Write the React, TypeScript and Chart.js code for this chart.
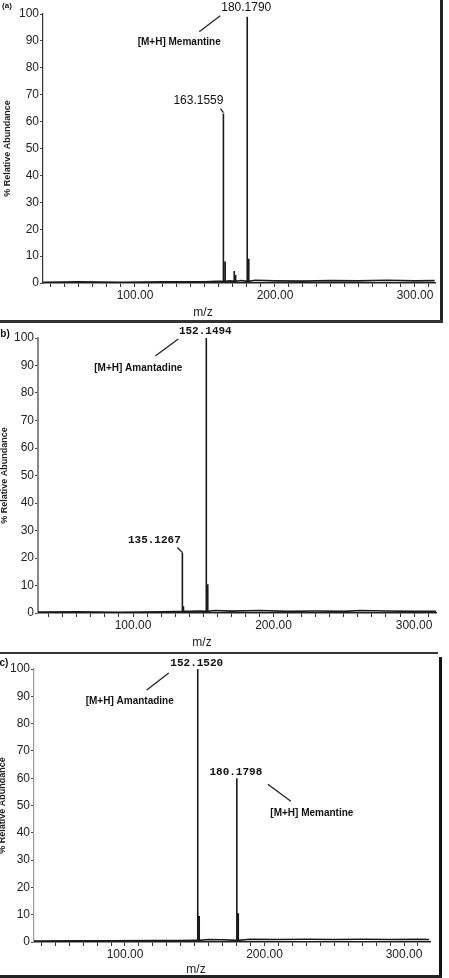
import React, { useEffect, useRef } from "react";
import { Chart, registerables } from "chart.js";
Chart.register(...registerables);

const SANS = '"Liberation Sans", Arial, sans-serif';
const MONO = '"Liberation Mono", "Courier New", monospace';

// ---------------- DATA ----------------
// Panel (a)
const aPeakMz = [163.16, 164.4, 170.9, 171.9, 180.18, 181.3];
const aPeakInt = [63, 8, 4.5, 3, 99, 9];
const aBaseMz = [34, 60, 90, 120, 150, 158, 168, 176, 186, 200, 220, 240, 260, 280, 300, 314];
const aBaseInt = [0.3, 0.4, 0.3, 0.4, 0.4, 0.6, 0.8, 0.9, 1.0, 0.8, 0.7, 0.9, 0.8, 1.0, 0.8, 0.9];
const aLabels = ["180.1790", "163.1559", "[M+H] Memantine"];

// Panel (b)
const bPeakMz = [135.13, 135.9, 152.15, 153.2];
const bPeakInt = [22, 2.5, 100, 10.5];
const bBaseMz = [32, 60, 90, 120, 130, 140, 148, 158, 170, 190, 210, 230, 250, 262, 280, 300, 316];
const bBaseInt = [0.3, 0.4, 0.3, 0.4, 0.5, 0.6, 0.7, 0.9, 0.7, 0.9, 0.6, 0.7, 0.6, 0.9, 0.7, 0.6, 0.6];
const bLabels = ["152.1494", "[M+H] Amantadine", "135.1267"];

// Panel (c)
const cPeakMz = [152.15, 153.2, 180.18, 181.2];
const cPeakInt = [100, 9.5, 60, 10.5];
const cBaseMz = [34, 60, 90, 120, 140, 150, 160, 170, 190, 210, 230, 250, 270, 290, 310, 318];
const cBaseInt = [0.3, 0.4, 0.4, 0.5, 0.5, 0.6, 0.9, 0.8, 1.0, 0.9, 1.0, 0.9, 1.0, 0.9, 1.0, 0.9];
const cLabels = ["152.1520", "[M+H] Amantadine", "180.1798", "[M+H] Memantine"];

const yTickStep = 10;
const xTickValues = [40, 50, 60, 70, 80, 90, 100, 110, 120, 130, 140, 150, 160, 170, 180, 190, 200, 210, 220, 230, 240, 250, 260, 270, 280, 290, 300, 310];
const xLabelValues = [100, 200, 300];

// ---------------- HELPERS ----------------
function buildSeries(baseMz: number[], baseInt: number[], peakMz: number[], peakInt: number[]) {
  const pts: { x: number; y: number; o: number }[] = [];
  baseMz.forEach((m, i) => pts.push({ x: m, y: baseInt[i], o: 0 }));
  peakMz.forEach((m, i) => {
    pts.push({ x: m - 0.001, y: 0.6, o: 1 });
    pts.push({ x: m, y: peakInt[i], o: 2 });
    pts.push({ x: m + 0.001, y: 0.6, o: 3 });
  });
  pts.sort((p, q) => p.x - q.x || p.o - q.o);
  return pts.map((p) => ({ x: p.x, y: p.y }));
}

type Note = { text: string; peak: number; dx: number; dy: number; font: string };
type Leader = { peak: number; x1: number; y1: number; x2: number; y2: number };

type Panel = {
  top: number;
  h: number;
  area: { left: number; right: number; top: number; bottom: number };
  xMin: number;
  xMax: number;
  peakMz: number[];
  peakInt: number[];
  baseMz: number[];
  baseInt: number[];
  notes: Note[];
  leaders: Leader[];
  tag: { text: string; x: number; y: number; font: string };
  yTitleX: number;
  xTitle: { x: number; y: number };
  yAxisColor: string;
  yAxisWidth: number;
};

const W = 449;

const panels: Panel[] = [
  {
    top: 0,
    h: 322,
    area: { left: 43, right: 435, top: 14, bottom: 283 },
    xMin: 34.3,
    xMax: 314.3,
    peakMz: aPeakMz,
    peakInt: aPeakInt,
    baseMz: aBaseMz,
    baseInt: aBaseInt,
    notes: [
      { text: aLabels[0], peak: 4, dx: -1, dy: -9, font: `12px ${SANS}` },
      { text: aLabels[1], peak: 0, dx: -25, dy: -13, font: `12px ${SANS}` },
      { text: aLabels[2], peak: 4, dx: -68, dy: 26, font: `bold 10px ${SANS}` },
    ],
    leaders: [
      { peak: 4, x1: -48, y1: 15, x2: -27, y2: -1 },
      { peak: 0, x1: -3, y1: -5, x2: 0, y2: -1 },
    ],
    tag: { text: "(a)", x: 7, y: 6, font: `bold 8px ${SANS}` },
    yTitleX: 8,
    xTitle: { x: 203, y: 313 },
    yAxisColor: "#333",
    yAxisWidth: 1.2,
  },
  {
    top: 322,
    h: 330,
    area: { left: 38, right: 436, top: 16, bottom: 291 },
    xMin: 32.4,
    xMax: 315.6,
    peakMz: bPeakMz,
    peakInt: bPeakInt,
    baseMz: bBaseMz,
    baseInt: bBaseInt,
    notes: [
      { text: bLabels[0], peak: 2, dx: -1, dy: -7, font: `bold 11px ${MONO}` },
      { text: bLabels[1], peak: 2, dx: -68, dy: 30, font: `bold 10px ${SANS}` },
      { text: bLabels[2], peak: 0, dx: -28, dy: -12, font: `bold 11px ${MONO}` },
    ],
    leaders: [
      { peak: 2, x1: -51, y1: 18, x2: -28, y2: 1 },
      { peak: 0, x1: -5, y1: -5, x2: 0, y2: 0 },
    ],
    tag: { text: "b)", x: 5, y: 12, font: `bold 10px ${SANS}` },
    yTitleX: 5,
    xTitle: { x: 202, y: 321 },
    yAxisColor: "#888",
    yAxisWidth: 2,
  },
  {
    top: 652,
    h: 326,
    area: { left: 34, right: 430, top: 17, bottom: 290 },
    xMin: 34.8,
    xMax: 318.6,
    peakMz: cPeakMz,
    peakInt: cPeakInt,
    baseMz: cBaseMz,
    baseInt: cBaseInt,
    notes: [
      { text: cLabels[0], peak: 0, dx: -1, dy: -6, font: `bold 11px ${MONO}` },
      { text: cLabels[1], peak: 0, dx: -68, dy: 32, font: `bold 10px ${SANS}` },
      { text: cLabels[2], peak: 2, dx: -1, dy: -6, font: `bold 11px ${MONO}` },
      { text: cLabels[3], peak: 2, dx: 75, dy: 35, font: `bold 10px ${SANS}` },
    ],
    leaders: [
      { peak: 0, x1: -51, y1: 21, x2: -29, y2: 4 },
      { peak: 2, x1: 31, y1: 6, x2: 54, y2: 23 },
    ],
    tag: { text: "c)", x: 4, y: 11, font: `bold 10px ${SANS}` },
    yTitleX: 3,
    xTitle: { x: 196, y: 318 },
    yAxisColor: "#999",
    yAxisWidth: 1.2,
  },
];

function SpectrumPanel({ p }: { p: Panel }) {
  const ref = useRef<HTMLCanvasElement | null>(null);
  useEffect(() => {
    if (!ref.current) return;
    const data = buildSeries(p.baseMz, p.baseInt, p.peakMz, p.peakInt);
    const overlay = {
      id: "overlay",
      afterDatasetsDraw(chart: any) {
        const { ctx, chartArea } = chart;
        const xs = chart.scales.x;
        const ys = chart.scales.y;
        ctx.save();
        ctx.fillStyle = "#111";
        ctx.textAlign = "center";
        ctx.textBaseline = "middle";
        for (const n of p.notes) {
          const px = xs.getPixelForValue(p.peakMz[n.peak]) + n.dx;
          const py = ys.getPixelForValue(p.peakInt[n.peak]) + n.dy;
          ctx.font = n.font;
          ctx.fillText(n.text, px, py);
        }
        ctx.strokeStyle = "#222";
        ctx.lineWidth = 1.3;
        for (const l of p.leaders) {
          const bx = xs.getPixelForValue(p.peakMz[l.peak]);
          const by = ys.getPixelForValue(p.peakInt[l.peak]);
          ctx.beginPath();
          ctx.moveTo(bx + l.x1, by + l.y1);
          ctx.lineTo(bx + l.x2, by + l.y2);
          ctx.stroke();
        }
        ctx.font = p.tag.font;
        ctx.fillText(p.tag.text, p.tag.x, p.tag.y);
        ctx.font = `12px ${SANS}`;
        ctx.fillStyle = "#222";
        ctx.fillText("m/z", p.xTitle.x, p.xTitle.y);
        ctx.translate(p.yTitleX, (chartArea.top + chartArea.bottom) / 2);
        ctx.rotate(-Math.PI / 2);
        ctx.font = `bold 9px ${SANS}`;
        ctx.fillStyle = "#222";
        ctx.fillText("% Relative Abundance", 0, 0);
        ctx.restore();
      },
    };
    const chart = new Chart(ref.current, {
      type: "line",
      data: {
        datasets: [
          {
            data,
            borderColor: "#1a1a1a",
            borderWidth: 1.6,
            pointRadius: 0,
            tension: 0,
            fill: false,
          },
        ],
      },
      options: {
        animation: false,
        responsive: false,
        devicePixelRatio: 1,
        layout: {
          padding: { top: p.area.top, right: W - p.area.right, left: 0, bottom: 0 },
        },
        plugins: { legend: { display: false }, tooltip: { enabled: false } },
        scales: {
          x: {
            type: "linear",
            min: p.xMin,
            max: p.xMax,
            afterBuildTicks: (s: any) => {
              s.ticks = xTickValues.map((v) => ({ value: v }));
            },
            afterFit: (s: any) => {
              s.height = p.h - p.area.bottom;
            },
            grid: { drawOnChartArea: false, drawTicks: true, tickLength: 4, color: "#333" },
            border: { display: true, color: "#222", width: 1.5 },
            ticks: {
              autoSkip: false,
              maxRotation: 0,
              padding: 1,
              color: "#222",
              font: { family: SANS, size: 12 },
              callback: (v: any) => {
                const n = Number(v);
                return xLabelValues.includes(n) ? n.toFixed(2) : "";
              },
            },
          },
          y: {
            min: 0,
            max: 100,
            afterFit: (s: any) => {
              s.width = p.area.left;
            },
            grid: { drawOnChartArea: false, drawTicks: true, tickLength: 3, color: "#444" },
            border: { display: true, color: p.yAxisColor, width: p.yAxisWidth },
            ticks: {
              stepSize: yTickStep,
              padding: 1,
              color: "#222",
              font: { family: SANS, size: 12 },
            },
          },
        },
      },
      plugins: [overlay],
    } as any);
    return () => chart.destroy();
  }, [p]);
  return (
    <canvas
      ref={ref}
      width={W}
      height={p.h}
      style={{ position: "absolute", left: 0, top: p.top, width: W, height: p.h }}
    />
  );
}

export default function App() {
  const box = (s: React.CSSProperties) => <div style={{ position: "absolute", ...s }} />;
  return (
    <div style={{ position: "absolute", left: 0, top: 0, width: W, height: 978, background: "#fff", overflow: "hidden" }}>
      {panels.map((p, i) => (
        <SpectrumPanel key={i} p={p} />
      ))}
      {box({ left: 440, top: 0, width: 3, height: 323, background: "#222" })}
      {box({ left: 0, top: 320, width: 443, height: 2.5, background: "#333" })}
      {box({ left: 0, top: 652, width: 438, height: 1.5, background: "#333" })}
      {box({ left: 439, top: 657, width: 3, height: 321, background: "#111" })}
      {box({ left: 0, top: 975, width: 442, height: 3, background: "#222" })}
    </div>
  );
}
